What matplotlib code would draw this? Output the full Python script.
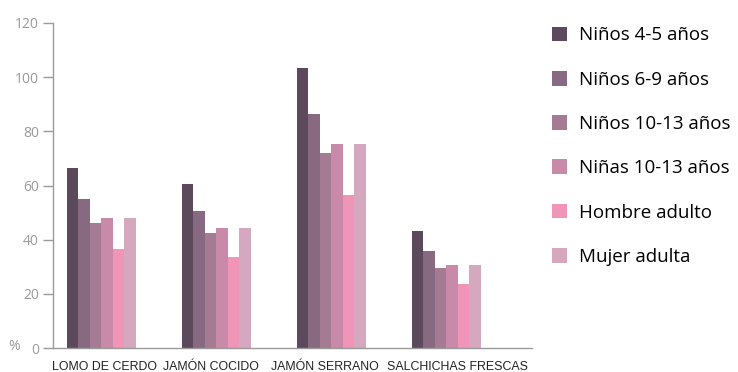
import numpy as np
import matplotlib.pyplot as plt
from matplotlib.patches import Patch

# Data
categories = ['LOMO DE CERDO', 'JAMÓN COCIDO', 'JAMÓN SERRANO', 'SALCHICHAS FRESCAS']
series_names = ['Niños 4-5 años', 'Niños 6-9 años', 'Niños 10-13 años',
                'Niñas 10-13 años', 'Hombre adulto', 'Mujer adulta']
ninos_4_5 = [66.4, 60.7, 103.4, 43.1]
ninos_6_9 = [54.9, 50.7, 86.3, 35.7]
ninos_10_13 = [46.0, 42.3, 72.1, 29.4]
ninas_10_13 = [48.0, 44.4, 75.3, 30.8]
hombre = [36.7, 33.7, 56.5, 23.7]
mujer = [48.0, 44.4, 75.3, 30.8]
colors = ['#5c4a5c', '#876a82', '#a57b93', '#c989a8', '#f094b8', '#d6a8bf']
y_ticks = [0, 20, 40, 60, 80, 100, 120]

series = [ninos_4_5, ninos_6_9, ninos_10_13, ninas_10_13, hombre, mujer]

fig = plt.figure(figsize=(7.38, 3.72), dpi=100)
ax = fig.add_axes([53 / 738, 1 - 348 / 372, (532 - 53) / 738, (348 - 23) / 372])

x = np.arange(len(categories))
w = 0.1
for j, (vals, c) in enumerate(zip(series, colors)):
    ax.bar(x + (j - 2.5) * w, vals, width=w, color=c, edgecolor='none')

axis_gray = '#9a9a9a'
ax.set_ylim(0, 120)
ax.set_xlim(-0.42, 3.745)
ax.set_yticks(y_ticks)
ax.set_yticklabels([str(t) for t in y_ticks], color='#9a9a9a', fontsize=10,
                   family=['Open Sans', 'DejaVu Sans'])
ax.tick_params(axis='y', length=7, width=1, color=axis_gray, pad=3)

# labels sit a little off the group centres in the original
label_shift = [0.03, -0.05, -0.055, 0.1]
ax.set_xticks(x + np.array(label_shift))
ax.set_xticklabels(categories, fontsize=8.9, color='#222222',
                   family=['Liberation Sans Narrow', 'Liberation Sans'])
ax.tick_params(axis='x', length=0, pad=9)
for s in ['top', 'right']:
    ax.spines[s].set_visible(False)
for s in ['left', 'bottom']:
    ax.spines[s].set_color(axis_gray)
    ax.spines[s].set_linewidth(1)

fig.text(8 / 738, 1 - 347 / 372, '%', color='#9a9a9a', fontsize=10,
         va='center', ha='left', family=['Open Sans', 'DejaVu Sans'])

handles = [Patch(facecolor=c, edgecolor='none') for c in colors]
fig.legend(handles, series_names, loc='upper left',
           bbox_to_anchor=(544 / 738, 1 - 19 / 372), frameon=False,
           prop={'family': ['Open Sans', 'DejaVu Sans'], 'size': 13.5},
           handlelength=0.85, handleheight=0.85, handletextpad=0.6,
           labelspacing=1.4, borderaxespad=0)

fig.savefig('out.png', dpi=100)
